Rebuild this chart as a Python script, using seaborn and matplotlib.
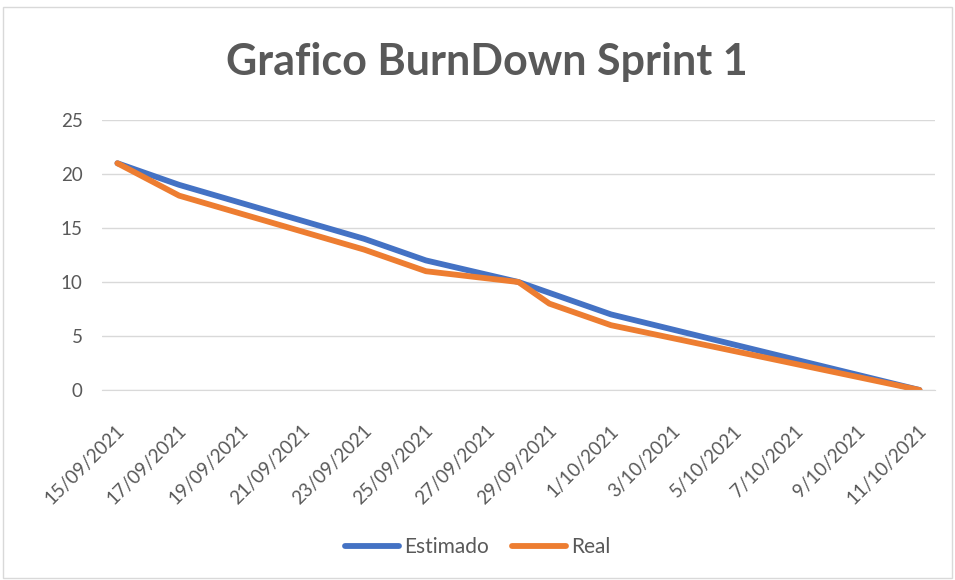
import pandas as pd
import matplotlib
matplotlib.use("Agg")
import matplotlib.pyplot as plt
import matplotlib.transforms as mtransforms
import seaborn as sns
from matplotlib.patches import Rectangle

# datos
fechas = ["2021-09-15", "2021-09-17", "2021-09-23", "2021-09-25",
          "2021-09-28", "2021-09-29", "2021-10-01", "2021-10-11"]
estimado = [21, 19, 14, 12, 10, 9, 7, 0]
real = [21, 18, 13, 11, 10, 8, 6, 0]
tick_fechas = pd.date_range("2021-09-15", "2021-10-11", freq="2D")

# Excel centra cada punto en su dia
x = pd.to_datetime(fechas) + pd.Timedelta(hours=12)
df = pd.DataFrame({"Fecha": list(x) * 2,
                   "Valor": estimado + real,
                   "Serie": ["Estimado"] * len(x) + ["Real"] * len(x)})

sns.set_style("white")
plt.rcParams["font.family"] = ["Lato", "DejaVu Sans"]

gris = "#595959"
fig = plt.figure(figsize=(9.55, 5.8), dpi=100)
ax = fig.add_axes([0.1068, 0.3276, 0.979 - 0.1068, 0.793 - 0.3276])

sns.lineplot(data=df, x="Fecha", y="Valor", hue="Serie",
             palette={"Estimado": "#4472C4", "Real": "#ED7D31"},
             linewidth=4.2, ax=ax, solid_capstyle="round", solid_joinstyle="round")

ax.set_xlim(pd.Timestamp("2021-09-15"), pd.Timestamp("2021-10-12"))
ax.set_ylim(0, 25)
ax.set_yticks([0, 5, 10, 15, 20, 25])
ax.set_xticks(tick_fechas)
ax.set_xticklabels([f"{d.day}/{d.month:02d}/{d.year}" for d in tick_fechas],
                   rotation=45, ha="right", rotation_mode="anchor")
ax.tick_params(axis="x", colors=gris, labelsize=13.5, length=6, width=1,
               direction="out", color="#D9D9D9", pad=4)
ax.tick_params(axis="y", colors=gris, labelsize=13.5, length=0, pad=14)

# mover las etiquetas como en Excel
desplaza = mtransforms.ScaledTranslation(14 / 100, -18 / 100, fig.dpi_scale_trans)
for lbl in ax.get_xticklabels():
    lbl.set_transform(lbl.get_transform() + desplaza)

ax.grid(axis="y", color="#D9D9D9", linewidth=1)
ax.set_axisbelow(True)
for s in ["top", "right", "left"]:
    ax.spines[s].set_visible(False)
ax.spines["bottom"].set_color("#D9D9D9")
ax.set_xlabel("")
ax.set_ylabel("")

leg = ax.legend(loc="center", bbox_to_anchor=(0.5, 1 - 547 / 580), bbox_transform=fig.transFigure,
                ncol=2, frameon=False, fontsize=15, handlelength=2.6, columnspacing=1.1,
                handletextpad=0.25)
for t in leg.get_texts():
    t.set_color(gris)
for h in leg.get_lines():
    h.set_linewidth(4.2)

fig.text(487 / 955, 1 - 62 / 580, "Grafico BurnDown Sprint 1", ha="center", va="center",
         fontsize=31, fontweight="bold", color=gris)

fig.patches.append(Rectangle((0.003, 0.003), 0.994, 0.985, transform=fig.transFigure,
                             fill=False, edgecolor="#D9D9D9", linewidth=1))

fig.savefig("out.png", dpi=100)
